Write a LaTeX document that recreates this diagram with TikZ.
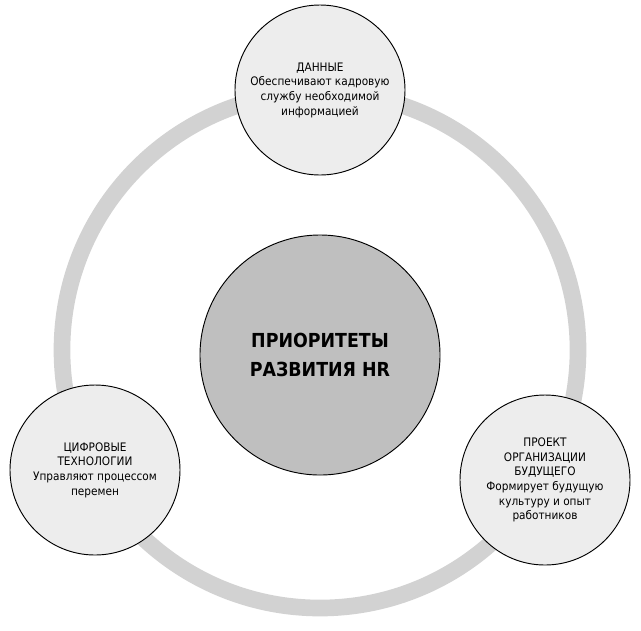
\documentclass[tikz,border=0pt]{standalone}
\usepackage{fontspec}
\setmainfont{DejaVu Sans Condensed}
\begin{document}
\begin{tikzpicture}[x=0.03cm,y=-0.03cm,
    sat/.style={circle, draw=black, line width=0.8pt, fill=gray!14, minimum size=5.1cm,
        align=center, inner sep=0pt, font=\fontsize{10}{12.5}\selectfont},
    core/.style={circle, draw=black, line width=0.8pt, fill=gray!50, minimum size=7.2cm,
        align=center, font=\bfseries\fontsize{16.5}{24}\selectfont}
]
\useasboundingbox (0,0) rectangle (641,630);
\draw[gray!35, line width=0.5cm] (320,350) circle (7.74cm);
\node (core) [core] at (320,355) {ПРИОРИТЕТЫ\\РАЗВИТИЯ HR};
\node (data) [sat] at (320,90) {ДАННЫЕ\\Обеспечивают кадровую\\службу необходимой\\информацией};
\node (tech) [sat] at (95,470) {ЦИФРОВЫЕ\\ТЕХНОЛОГИИ\\Управляют процессом\\перемен};
\node (org) [sat] at (545,480) {ПРОЕКТ\\ОРГАНИЗАЦИИ\\БУДУЩЕГО\\Формирует будущую\\культуру и опыт\\работников};
\end{tikzpicture}
\end{document}
